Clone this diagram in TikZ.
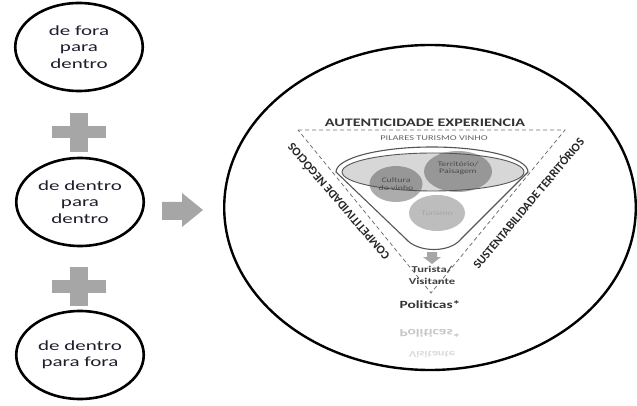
\documentclass[tikz,border=0pt]{standalone}
\usepackage{fontspec}
\setmainfont{Carlito}
\usetikzlibrary{shapes.geometric}
\definecolor{lgrey}{HTML}{A6A6A6}
\definecolor{ltext}{HTML}{1E1E2E}
\definecolor{funline}{HTML}{555555}
\begin{document}
\begin{tikzpicture}[x=1pt,y=-1pt,
  lell/.style={ellipse, draw=black, line width=2.6pt, minimum width=85pt, minimum height=88pt,
    inner sep=0pt, xscale=1.5, align=center, text=ltext, font=\fontsize{14}{16.3}\selectfont},
  rtxt/.style={xscale=1.4, inner sep=0pt, align=center},
  ctxt/.style={rtxt, text=black!70, font=\fontsize{7}{7.5}\selectfont},
  side/.style={inner sep=0pt, text=black!85, font=\bfseries\fontsize{12}{13}\selectfont},
  blockgrey/.style={fill=lgrey},
]
\useasboundingbox (0,0) rectangle (637,406);
\fill[white] (0,0) rectangle (637,406);

% left ellipses
\node[lell] (e1) at (79,47) {de fora\\para\\dentro};
\node[lell] (e2) at (80,202) {de dentro\\para\\dentro};
\node[lell] (e3) at (80,355) {de dentro\\para fora};

% plus signs
\fill[blockgrey] (70,113) rectangle (88,152);
\fill[blockgrey] (52,126) rectangle (106,138);
\fill[blockgrey] (70,267) rectangle (88,306);
\fill[blockgrey] (52,280) rectangle (106,293);

% block arrow
\fill[blockgrey] (162,202) -- (182,202) -- (182,193) -- (203,210) -- (182,227) -- (182,220) -- (162,220) -- cycle;

% big ellipse
\node[ellipse, draw=black, line width=2.4pt, minimum width=294pt, minimum height=325pt,
  inner sep=0pt, xscale=1.4] (big) at (430,207.5) {};

% dashed triangle
\draw[dashed, dash pattern=on 4pt off 3pt, draw=black!55, line width=0.8pt]
  (298,130) -- (565,130) -- (431,293) -- cycle;

% titles
\node[rtxt, text=black!80, font=\bfseries\fontsize{11.5}{12}\selectfont] (aut) at (425,123) {AUTENTICIDADE EXPERIENCIA};
\node[rtxt, text=black!60, font=\fontsize{7.4}{8}\selectfont] (pil) at (434,138) {PILARES TURISMO VINHO};

\node[side, rotate=130.7] (comp) at (338,202) {COMPETITIVIDADE NEGÓCIOS};
\node[side, rotate=50.1] (sust) at (528,203) {SUSTENTABILIDADE TERRITÓRIOS};

% funnel
\draw[line width=1.1pt, draw=funline, fill=white]
  (336,172) arc[start angle=180, end angle=360, x radius=96, y radius=25]
  -- (461,239) .. controls (450,253) and (418,253) .. (406,239) -- cycle;
\fill[gray!8] (433,172) ellipse[x radius=91, y radius=19];
\fill[gray!65] (396,184) ellipse[x radius=26.5, y radius=18];
\fill[gray!65] (458,171.5) ellipse[x radius=34, y radius=20.5];
\fill[gray!52] (437,213) ellipse[x radius=28, y radius=18];
\fill[black, opacity=0.12] (433,172) ellipse[x radius=91, y radius=19];
\draw[line width=0.9pt, draw=funline] (433,172) ellipse[x radius=91, y radius=19];

\node[ctxt] (cul) at (396,184) {Cultura\\do vinho};
\node[ctxt] (ter) at (458,168) {Território/\\Paisagem};
\node[ctxt, text=black!35] (tur) at (437,213) {Turismo};

% small down arrow
\fill[gray!70] (427,252) -- (437,252) -- (437,257) -- (441,257) -- (432,264) -- (423,257) -- (427,257) -- cycle;

\node[rtxt, text=black!75, font=\bfseries\fontsize{9}{12}\selectfont] (tv) at (432,275) {Turista/\\Visitante};
\node[rtxt, text=black!80, font=\bfseries\fontsize{11}{12}\selectfont] (pol) at (430,305) {Politicas*};

% faded reflections
\node[rtxt, yscale=-1, text=black!22, font=\bfseries\fontsize{11}{12}\selectfont] (polr) at (430,333) {Politicas*};
\node[rtxt, yscale=-1, text=black!14, font=\bfseries\fontsize{9}{12}\selectfont] (visr) at (432,355) {Visitante};
\end{tikzpicture}
\end{document}
